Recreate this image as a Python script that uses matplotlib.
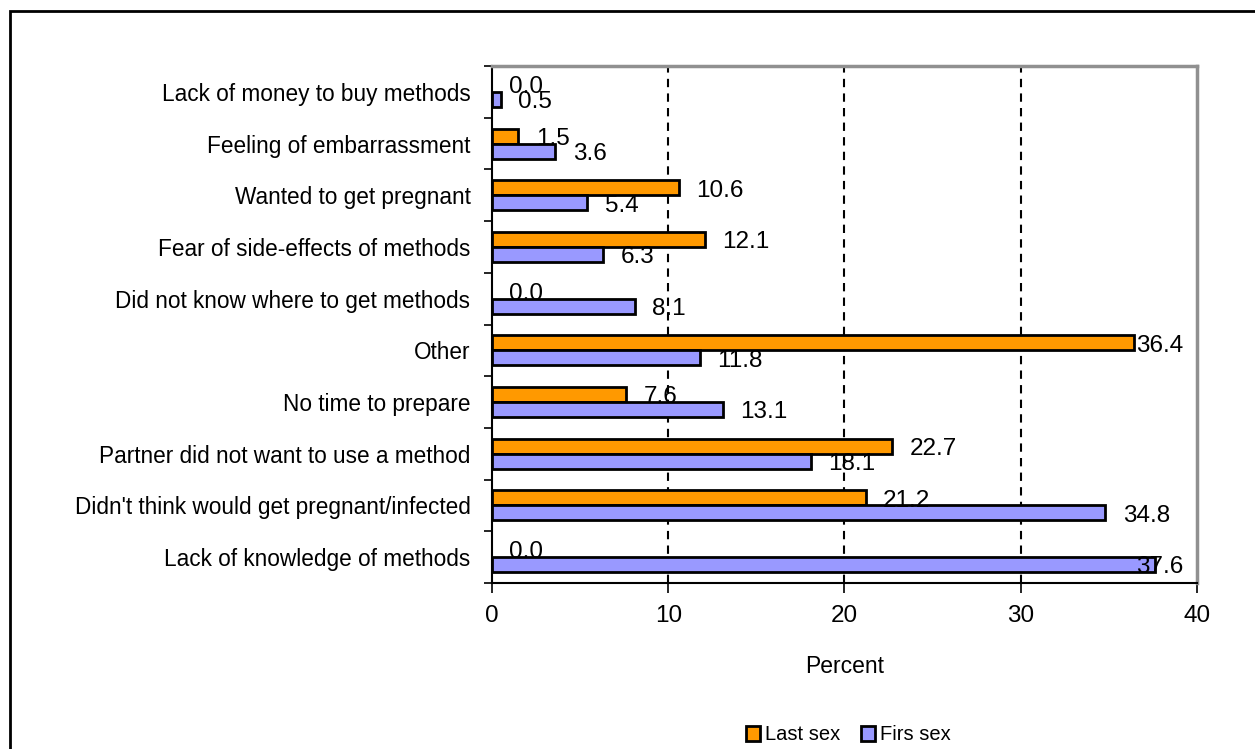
import matplotlib
matplotlib.use("Agg")
import matplotlib.pyplot as plt
from matplotlib.patches import Rectangle, Patch
import numpy as np

plt.rcParams['font.family'] = ['Liberation Sans', 'DejaVu Sans']

categories = [
    "Lack of knowledge of methods",
    "Didn't think would get pregnant/infected",
    "Partner did not want to use a method",
    "No time to prepare",
    "Other",
    "Did not know where to get methods",
    "Fear of side-effects of methods",
    "Wanted to get pregnant",
    "Feeling of embarrassment",
    "Lack of money to buy methods",
]
last_sex = [0.0, 21.2, 22.7, 7.6, 36.4, 0.0, 12.1, 10.6, 1.5, 0.0]
first_sex = [37.6, 34.8, 18.1, 13.1, 11.8, 8.1, 6.3, 5.4, 3.6, 0.5]
xticks = [0, 10, 20, 30, 40]

ORANGE = "#FF9900"
PURPLE = "#9999FF"

fig = plt.figure(figsize=(12.55, 7.49), dpi=100)
W, H = 1255, 749
ax = fig.add_axes([492 / W, 1 - 583 / H, (1197 - 492) / W, (583 - 66) / H])

y = np.arange(len(categories))
bh = 0.29
lw1 = [0 if v == 0 else 2 for v in last_sex]
lw2 = [0 if v == 0 else 2 for v in first_sex]
ax.barh(y + bh / 2, last_sex, height=bh, color=ORANGE, edgecolor="black", linewidth=lw1, zorder=3)
ax.barh(y - bh / 2, first_sex, height=bh, color=PURPLE, edgecolor="black", linewidth=lw2, zorder=3)

ax.set_xlim(0, 40)
ax.set_ylim(-0.5, len(categories) - 0.5)
ax.set_xticks(xticks)
ax.set_xticklabels([str(t) for t in xticks], fontsize=17.5)
ax.set_yticks(y)
ax.set_yticklabels(categories, fontsize=16.3)
ax.set_yticks(np.arange(-0.5, len(categories), 1.0), minor=True)
ax.tick_params(axis='y', which='major', length=0, pad=15.5)
ax.tick_params(axis='y', which='minor', length=6, width=1.2, direction='out')
ax.tick_params(axis='x', which='major', length=7, width=1.2, direction='out', pad=9)

for t in [10, 20, 30]:
    ax.axvline(t, color="black", linestyle=(0, (4, 3)), linewidth=1.5, zorder=1)

ax.spines['left'].set_color('black')
ax.spines['left'].set_linewidth(1.5)
ax.spines['bottom'].set_color('black')
ax.spines['bottom'].set_linewidth(1.5)
ax.spines['top'].set_color('#909090')
ax.spines['top'].set_linewidth(2.5)
ax.spines['right'].set_color('#909090')
ax.spines['right'].set_linewidth(2.5)

ax.set_xlabel("Percent", fontsize=16.5, labelpad=20)

fig.canvas.draw()
renderer = fig.canvas.get_renderer()
ax_right_px = ax.get_window_extent(renderer).x1
texts = []
for vals, off in [(last_sex, bh / 2), (first_sex, -bh / 2)]:
    for i, v in enumerate(vals):
        t = ax.annotate(f"{v:.1f}", xy=(v, i + off), xytext=(12.5, -2), textcoords="offset points",
                        ha="left", va="center", fontsize=17.5, zorder=5)
        texts.append(t)
fig.canvas.draw()
for t in texts:
    bb = t.get_window_extent(renderer)
    limit = ax_right_px - 14
    if bb.x1 > limit:
        shift = bb.x1 - limit
        ox, oy = t.xyann
        t.xyann = (ox - shift * 72 / fig.dpi, oy)

handles = [Patch(facecolor=ORANGE, edgecolor="black", linewidth=2),
           Patch(facecolor=PURPLE, edgecolor="black", linewidth=2)]
fig.legend(handles, ["Last sex", "Firs sex"], loc="center", bbox_to_anchor=(848.5 / W, 1 - 735 / H),
           ncol=2, frameon=False, fontsize=14.5, handlelength=0.7, handleheight=0.7,
           handletextpad=0.25, columnspacing=1.05)

fig.patches.append(Rectangle((10 / W, -0.01), 1.02, 1 - 11 / H + 0.01, transform=fig.transFigure,
                             fill=False, edgecolor="black", linewidth=2))

fig.savefig("out.png", dpi=100)
